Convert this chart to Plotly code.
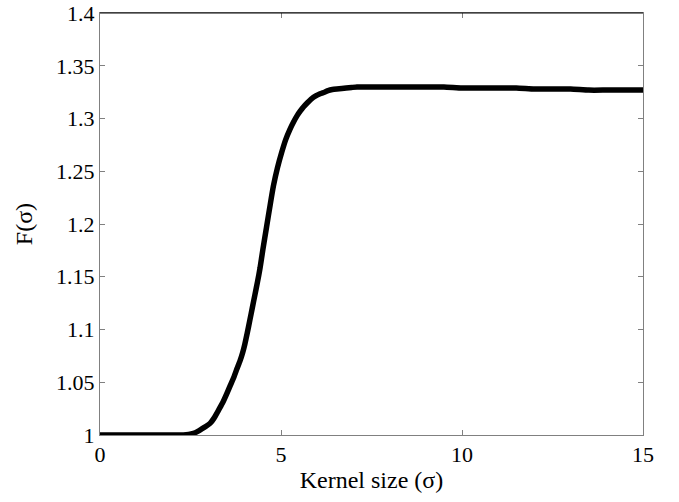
import plotly.graph_objects as go

sigma = [0, 0.5, 1.0, 1.5, 2.0, 2.3, 2.45, 2.58, 2.7, 2.8, 2.92, 3.04, 3.15, 3.25, 3.38, 3.5, 3.6, 3.7, 3.78, 3.87, 3.94, 4.0, 4.07, 4.14, 4.21, 4.28, 4.35, 4.42, 4.5, 4.6, 4.7, 4.79, 4.9, 5.02, 5.13, 5.25, 5.35, 5.45, 5.53, 5.62, 5.73, 5.85, 5.96, 6.08, 6.2, 6.3, 6.42, 6.54, 6.68, 6.8, 6.95, 7.1, 7.5, 8.0, 8.5, 9.0, 9.5, 10.0, 10.5, 11.0, 11.5, 12.0, 12.5, 13.0, 13.5, 14.0, 14.5, 15.0]
F = [1.0, 1.0, 1.0, 1.0, 1.0, 1.0, 1.0005, 1.0016, 1.0035, 1.0055, 1.008, 1.011, 1.016, 1.022, 1.030, 1.039, 1.047, 1.055, 1.0625, 1.0705, 1.078, 1.086, 1.097, 1.109, 1.121, 1.133, 1.145, 1.158, 1.176, 1.197, 1.218, 1.236, 1.253, 1.268, 1.280, 1.290, 1.297, 1.303, 1.307, 1.311, 1.315, 1.319, 1.3215, 1.3235, 1.325, 1.3265, 1.3275, 1.328, 1.3285, 1.329, 1.3295, 1.330, 1.330, 1.330, 1.330, 1.330, 1.330, 1.329, 1.329, 1.329, 1.329, 1.328, 1.328, 1.328, 1.327, 1.327, 1.327, 1.327]

x_ticks = [0, 5, 10, 15]
y_ticks = [1, 1.05, 1.1, 1.15, 1.2, 1.25, 1.3, 1.35, 1.4]
y_labels = ["1", "1.05", "1.1", "1.15", "1.2", "1.25", "1.3", "1.35", "1.4"]

tick_font = dict(family="Liberation Serif, Times New Roman, serif", size=22, color="black")
title_font = dict(family="Liberation Serif, Times New Roman, serif", size=24, color="black")

fig = go.Figure(go.Scatter(x=sigma, y=F, mode="lines",
                           line=dict(color="black", width=5.5, shape="spline", smoothing=0.5)))

fig.update_layout(
    width=679, height=502,
    margin=dict(l=100, r=36, t=13, b=67),
    paper_bgcolor="white", plot_bgcolor="white",
    showlegend=False, font=tick_font,
    xaxis=dict(range=[0, 15.0001], tickvals=x_ticks, ticks="inside", ticklen=5, tickcolor="#808080",
               showline=True, linecolor="#808080", linewidth=1, mirror="ticks", showgrid=False,
               zeroline=False, title=dict(text="Kernel size (σ)", font=title_font, standoff=4),
               tickfont=tick_font, ticklabeloverflow="allow", automargin=False),
    yaxis=dict(range=[1, 1.4001], tickvals=y_ticks, ticktext=y_labels, ticks="inside", ticklen=5,
               tickcolor="#808080", showline=True, linecolor="#808080", linewidth=1, mirror="ticks",
               showgrid=False, zeroline=False, title=dict(text="F(σ)", font=title_font, standoff=16),
               tickfont=tick_font, ticklabeloverflow="allow", automargin=False),
    shapes=[dict(type="line", xref="paper", yref="paper", x0=0, x1=1, y0=1, y1=1,
                 line=dict(color="black", width=1))],
)

fig.write_html("out.html")
